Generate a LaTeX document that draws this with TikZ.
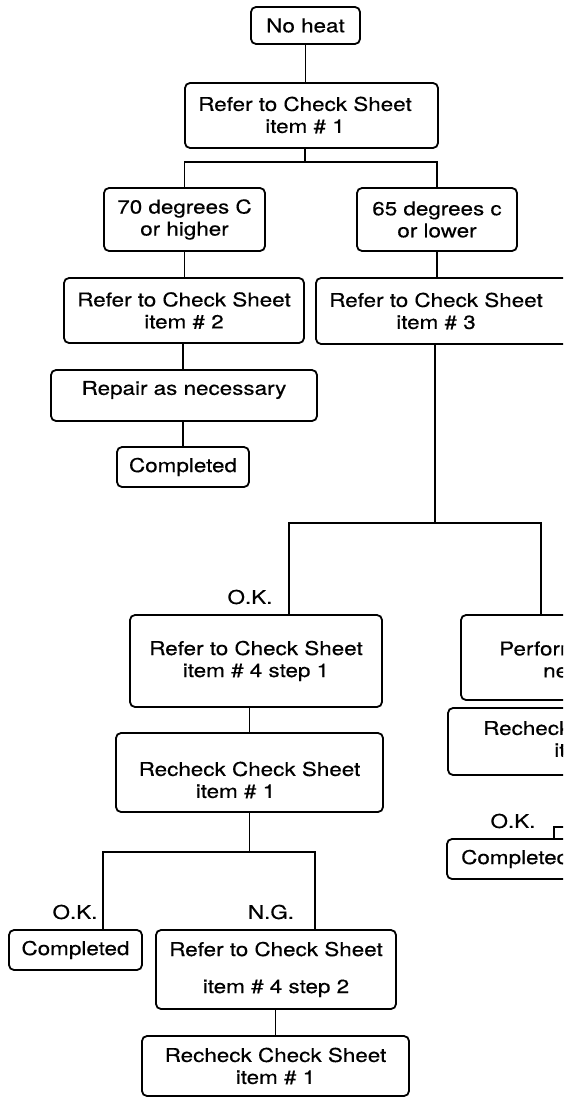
\documentclass[tikz,border=0pt]{standalone}
\usepackage{fontspec}
\setmainfont{TeX Gyre Heros}[FakeStretch=1.18,FakeBold=0.4]
\begin{document}
\begin{tikzpicture}[x=1pt,y=-1pt,
  box/.style={draw, line width=1.8pt, rounded corners=5pt, align=center, inner sep=0pt},
  txt/.style={align=center, inner sep=0pt},
  link/.style={line width=1.5pt},
  font=\fontsize{19}{22}\selectfont]
\useasboundingbox (0,0) rectangle (563,1099);
\clip (0,0) rectangle (563,1099);

% top part
\node[box, minimum width=109pt, minimum height=37pt] (noheat) at (305.5,25.5) {No heat};
\node[box, minimum width=253pt, minimum height=65pt] (item1) at (311.5,115.5) {};
\node[txt] (item1t) at (305,115) {Refer to Check Sheet\\item \# 1};
\node[box, minimum width=161pt, minimum height=63pt] (deg70) at (184.5,219.5) {70 degrees C\\or higher};
\node[box, minimum width=160pt, minimum height=63pt] (deg65) at (437,219.5) {65 degrees c\\or lower};
\node[box, minimum width=240pt, minimum height=65pt] (item2) at (184,310.5) {Refer to Check Sheet\\item \# 2};
\node[box, minimum width=264pt, minimum height=66pt] (item3) at (448,311) {};
\node[txt] (item3t) at (436,311) {Refer to Check Sheet\\item \# 3};
\node[box, minimum width=266pt, minimum height=51pt] (repair) at (184,395.5) {};
\node[txt] (repairt) at (184,390) {Repair as necessary};
\node[box, minimum width=132pt, minimum height=40pt] (done1) at (183,467) {Completed};

% middle part
\node[box, minimum width=252pt, minimum height=92pt] (step1) at (256,661) {Refer to Check Sheet\\item \# 4 step 1};
\node[box, minimum width=180pt, minimum height=85pt] (perform) at (551,657.5) {};
\node[txt, align=left, anchor=west] (performt) at (499,661.5) {Perform repair as\\\hspace*{44pt}necessary};
\node[box, minimum width=267pt, minimum height=79pt] (recheckL) at (249.5,772.5) {};
\node[txt] (recheckLt) at (249.5,780) {Recheck Check Sheet\\item \# 1\makebox[28pt]{}};
\node[box, minimum width=174pt, minimum height=67pt] (recheckR) at (535,741.5) {};
\node[txt, anchor=west] (recheckRt) at (483,739) {Recheck Check Sheet\\item \# 1};
\node[box, minimum width=166pt, minimum height=40pt] (doneR) at (530,859) {};
\node[txt, anchor=west] (doneRt) at (461,859) {Completed};

% bottom part
\node[box, minimum width=133pt, minimum height=40pt] (doneL) at (75.5,950) {Completed};
\node[box, minimum width=240pt, minimum height=79pt] (step2) at (276,969.5) {Refer to Check Sheet\\[15pt]item \# 4 step 2};
\node[box, minimum width=267pt, minimum height=60pt] (final) at (275.5,1066) {Recheck Check Sheet\\item \# 1};

% labels
\node[txt] (okA) at (250,597) {O.K.};
\node[txt] (okB) at (513,821) {O.K.};
\node[txt] (okC) at (75,912) {O.K.};
\node[txt] (ngC) at (271,912) {N.G.};

% branch coordinates
\coordinate (b1) at (305,162);
\coordinate (b2) at (435,523);
\coordinate (b2l) at (289,523);
\coordinate (b2r) at (541,523);
\coordinate (b3l) at (103,852);
\coordinate (b3r) at (315,852);
\coordinate (crx) at (554,827);
\coordinate (cre) at (600,827);

% connectors
\draw[link] (noheat.south) -- (noheat.south |- item1.north);
\draw[link] (b1 |- item1.south) -- (b1);
\draw[link] (deg70.north) -- (deg70.north |- b1) -- (deg65.north |- b1) -- (deg65.north);
\draw[link] (deg70.south) -- (deg70.south |- item2.north);
\draw[link] (item2.south -| done1.north) -- (done1.north |- repair.north);
\draw[link] (done1.north |- repair.south) -- (done1.north);
\draw[link] (deg65.south) -- (deg65.south |- item3.north);
\draw[link] (b2 |- item3.south) -- (b2);
\draw[link] (b2l |- step1.north) -- (b2l) -- (b2r) -- (b2r |- perform.north);
\draw[link] (recheckL.north |- step1.south) -- (recheckL.north);
\draw[link] (recheckL.south) -- (recheckL.south |- b3l);
\draw[link] (b3l |- doneL.north) -- (b3l) -- (b3r) -- (b3r |- step2.north);
\draw[link] (final.north |- step2.south) -- (final.north);
\draw[link] (crx |- doneR.north) -- (crx) -- (cre);
\end{tikzpicture}
\end{document}
